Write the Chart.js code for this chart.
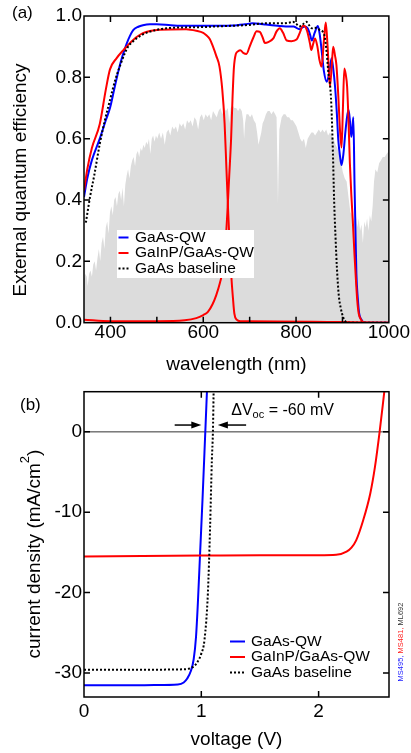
<!DOCTYPE html>
<html><head><meta charset="utf-8">
<script src="https://cdn.jsdelivr.net/npm/chart.js@4/dist/chart.umd.min.js"></script>
<style>
html,body{margin:0;padding:0;background:#fff;}
#wrapA{position:absolute;left:0;top:0;width:411px;height:380px;}
#wrapB{position:absolute;left:0;top:380px;width:411px;height:373px;}
</style></head><body>
<div id="wrapA"><canvas id="cA" width="411" height="380"></canvas></div>
<div id="wrapB"><canvas id="cB" width="411" height="373"></canvas></div>
<script>
const FONT = '"Liberation Sans", Arial, Helvetica, sans-serif';
const seriesNames = ['GaAs-QW', 'GaInP/GaAs-QW', 'GaAs baseline'];

// ---------- Panel (a): EQE vs wavelength ----------
const wlQW = [343,350,360,377,390,399,408,417,426,435,442,449,460,470,485,500,530,560,600,640,663,690,706,720,735,760,778,795,800,807,813,818,825,830,834,840,847,851,855,860,866,871,876.5,880,884,888,891,895,898,902,906,909,913,916,919,921,923.5,926,928,930,933,936,941,948,1000];
const eqeQW = [0.41,0.47,0.53,0.60,0.66,0.70,0.76,0.82,0.87,0.91,0.935,0.954,0.965,0.970,0.973,0.973,0.970,0.968,0.968,0.968,0.969,0.973,0.976,0.975,0.972,0.968,0.966,0.966,0.962,0.957,0.962,0.966,0.96,0.94,0.92,0.945,0.967,0.94,0.889,0.82,0.786,0.81,0.862,0.83,0.77,0.68,0.596,0.54,0.514,0.55,0.617,0.66,0.694,0.66,0.606,0.63,0.670,0.45,0.30,0.16,0.08,0.03,0.01,0.0,0.0];

const wlTandemTop = [343,350,360,377,390,399,413,428,449,470,506,563,585,600,606,614,621,628,635,641,646,650,654,658,661,664,667,672,680,700,1000];
const eqeTandemTop = [0.43,0.50,0.57,0.648,0.76,0.826,0.862,0.889,0.922,0.944,0.955,0.957,0.952,0.945,0.938,0.925,0.90,0.87,0.835,0.76,0.65,0.50,0.35,0.22,0.14,0.08,0.03,0.01,0.005,0.005,0.0];

const wlTandemBot = [343,400,500,560,585,600,610,620,628,636,643,648,652,656,660,663,666,670,675,680,686,693,700,708,715,722,728,733,740,751,758,765,772,780,790,801,808,815,820,825,830,833,837,841,846,850,855,860,864,868,873,877,880,884,887,891,895,898,901,904,907,910,913,916,919,922,926,929,932,935,940,948,1000];
const eqeTandemBot = [0.01,0.005,0.005,0.008,0.015,0.025,0.035,0.06,0.09,0.13,0.18,0.26,0.36,0.48,0.60,0.73,0.83,0.875,0.885,0.888,0.88,0.876,0.90,0.93,0.95,0.948,0.93,0.912,0.915,0.927,0.95,0.96,0.945,0.92,0.918,0.923,0.945,0.968,0.965,0.945,0.91,0.889,0.91,0.927,0.90,0.86,0.835,0.92,0.979,0.90,0.77,0.84,0.90,0.87,0.84,0.74,0.62,0.571,0.70,0.829,0.81,0.77,0.66,0.52,0.42,0.34,0.22,0.14,0.07,0.03,0.01,0.0,0.0];

const wlBase = [347,356,365,377,388,399,410,420,430,438,447,456,470,485,500,521,563,600,628,660,700,735,771,785,793,800,807,814,822,828,834,840,846,851,857,862,866,870,873,876,879.5,882,885,888,892,896,901,906,912,1000];
const eqeBase = [0.326,0.41,0.48,0.583,0.66,0.726,0.79,0.835,0.875,0.90,0.915,0.927,0.94,0.949,0.955,0.96,0.963,0.964,0.966,0.968,0.971,0.976,0.976,0.978,0.981,0.975,0.966,0.972,0.981,0.97,0.96,0.962,0.96,0.955,0.95,0.93,0.88,0.81,0.78,0.71,0.55,0.40,0.28,0.18,0.09,0.05,0.02,0.005,0.0,0.0];

// scaled solar spectrum (grey background), in EQE units
const wlSolar = [
 343,346,349,351,354,357,360,363,366,369,
 372,375,378,381,384,387,390,393,396,399,
 402,405,408,411,414,417,420,423,426,429,
 432,435,438,441,444,447,450,453,456,459,
 462,465,468,471,474,477,480,483,486,489,
 492,495,498,501,505,509,513,517,521,525,
 529,533,537,541,545,549,553,557,561,565,
 569,573,577,581,585,589,593,597,601,605,
 609,613,617,621,625,629,633,637,641,645,
 649,653,656,659,663,667,671,675,679,683,
 686,688,690,693,697,701,705,709,713,716,
 719,722,725,728,731,735,739,743,747,751,
 755,758,760,761,762,764,769,773,777,781,
 785,789,793,797,801,805,809,813,817,821,
 825,829,833,837,841,845,849,853,857,861,
 865,869,873,877,881,885,889,893,897,901,
 905,909,913,917,921,925,929,932,935,938,
 941,944,947,950,953,956,959,962,965,968,
 971,975,979,983,987,991,995,1000];
const solarScaled = [
 .14,.16,.15,.12,.16,.17,.15,.19,.20,.17,
 .21,.24,.20,.26,.28,.24,.31,.33,.29,.36,
 .38,.35,.40,.41,.38,.42,.43,.40,.44,.38,
 .45,.48,.50,.47,.51,.53,.54,.51,.55,.56,
 .54,.57,.56,.58,.57,.59,.58,.60,.55,.60,
 .61,.59,.61,.60,.62,.60,.62,.58,.62,.63,
 .61,.64,.63,.64,.62,.65,.64,.65,.63,.66,
 .65,.66,.64,.67,.66,.63,.67,.68,.66,.68,
 .67,.68,.66,.69,.68,.67,.69,.70,.68,.70,
 .69,.70,.65,.70,.71,.70,.70,.69,.70,.69,
 .66,.60,.65,.68,.68,.67,.68,.66,.65,.62,
 .58,.60,.62,.65,.66,.68,.69,.69,.68,.69,
 .68,.67,.50,.39,.48,.63,.67,.68,.68,.67,
 .67,.66,.66,.65,.64,.62,.60,.59,.60,.57,
 .60,.61,.62,.62,.61,.62,.63,.62,.63,.62,
 .63,.61,.62,.61,.60,.58,.57,.55,.52,.49,
 .47,.46,.41,.36,.35,.33,.35,.31,.34,.30,
 .32,.26,.33,.31,.34,.30,.35,.33,.38,.46,
 .50,.49,.52,.53,.54,.54,.55,.56];

const xTicksA = [400,500,600,700,800,900,1000];
const xLabelsA = [400,600,800,1000];
const yTicksA = [0,0.2,0.4,0.6,0.8,1.0];

// ---------- Panel (b): J-V ----------
const vQW = [0,0.2,0.4,0.6,0.8,0.85,0.88,0.91,0.935,0.955,0.97,0.99,1.01,1.034,1.048];
const jQW = [-31.55,-31.55,-31.55,-31.52,-31.45,-31.2,-30.7,-29.8,-28.3,-25.5,-21.5,-15,-8.5,0,5];
const vTandem = [0,0.5,1.0,1.5,2.0,2.15,2.238,2.28,2.32,2.38,2.44,2.48,2.52,2.56];
const jTandem = [-15.5,-15.45,-15.4,-15.35,-15.35,-15.3,-14.9,-14.4,-13.5,-11.0,-7.7,-4.4,0,5];
const vBase = [0,0.5,0.85,0.9,0.93,0.957,1.0,1.027,1.056,1.075,1.09,1.099,1.105];
const jBase = [-29.6,-29.6,-29.55,-29.45,-29.25,-28.85,-27.6,-25.9,-20.1,-11.8,-3.5,0,5];
const xTicksB = [0,1,2];
const yTicksB = [-30,-20,-10,0];
const deltaVocText = ['\u0394V', 'oc', ' = -60 mV'];

const pts = (xs, ys) => xs.map((x, i) => ({x: x, y: ys[i]}));

// ---------- plugins ----------
const framePlugin = {
  id: 'frame',
  afterDatasetsDraw(chart) {
    const {ctx, chartArea: a, scales} = chart;
    ctx.save();
    ctx.strokeStyle = '#000';
    ctx.lineWidth = 1.5;
    ctx.setLineDash([]);
    ctx.strokeRect(a.left, a.top, a.right - a.left, a.bottom - a.top);
    const L = 6;
    ctx.beginPath();
    scales.x.ticks.forEach(t => {
      const p = scales.x.getPixelForValue(t.value);
      if (p <= a.left + 1 || p >= a.right - 1) return;
      ctx.moveTo(p, a.bottom); ctx.lineTo(p, a.bottom - L);
      ctx.moveTo(p, a.top); ctx.lineTo(p, a.top + L);
    });
    scales.y.ticks.forEach(t => {
      const p = scales.y.getPixelForValue(t.value);
      if (p <= a.top + 1 || p >= a.bottom - 1) return;
      ctx.moveTo(a.left, p); ctx.lineTo(a.left + L, p);
      ctx.moveTo(a.right, p); ctx.lineTo(a.right - L, p);
    });
    ctx.stroke();
    ctx.restore();
  }
};

const legendPlugin = {
  id: 'customLegend',
  afterDatasetsDraw(chart, args, o) {
    const ctx = chart.ctx;
    ctx.save();
    if (o.box) {
      ctx.fillStyle = '#fff';
      ctx.fillRect(o.box[0], o.box[1], o.box[2] - o.box[0], o.box[3] - o.box[1]);
    }
    seriesNames.forEach((name, i) => {
      const ds = chart.data.datasets.find(d => d.label === name);
      const y = o.rowY[i];
      ctx.strokeStyle = ds.borderColor;
      ctx.lineWidth = 2;
      ctx.setLineDash(ds.borderDash || []);
      ctx.beginPath(); ctx.moveTo(o.sampleX0, y); ctx.lineTo(o.sampleX1, y); ctx.stroke();
      ctx.setLineDash([]);
      ctx.fillStyle = '#000';
      ctx.font = '15.5px ' + FONT;
      ctx.textBaseline = 'middle';
      ctx.textAlign = 'left';
      ctx.fillText(name, o.textX, y);
    });
    ctx.restore();
  }
};

// y-axis title drawn as rotated canvas text (parts: [text, size, raise])
const yTitlePlugin = {
  id: 'yTitle',
  afterDraw(chart, args, o) {
    const {ctx, chartArea: a} = chart;
    ctx.save();
    ctx.fillStyle = '#000';
    ctx.textBaseline = 'alphabetic';
    ctx.textAlign = 'left';
    let total = 0;
    o.parts.forEach(p => { ctx.font = p[1] + 'px ' + FONT; total += ctx.measureText(p[0]).width; });
    const cy = (a.top + a.bottom) / 2 + o.shift;
    ctx.translate(o.baseX, cy);
    ctx.rotate(-Math.PI / 2);
    let tx = -total / 2;
    o.parts.forEach(p => {
      ctx.font = p[1] + 'px ' + FONT;
      ctx.fillText(p[0], tx, -p[2]);
      tx += ctx.measureText(p[0]).width;
    });
    ctx.restore();
  }
};

const decorA = {
  id: 'decorA',
  afterDraw(chart) {
    const ctx = chart.ctx;
    ctx.save();
    ctx.fillStyle = '#000';
    ctx.font = '17px ' + FONT;
    ctx.textBaseline = 'alphabetic';
    ctx.fillText('(a)', 12, 18);
    ctx.restore();
  }
};

const decorB = {
  id: 'decorB',
  beforeDatasetsDraw(chart) {
    const {ctx, chartArea: a, scales} = chart;
    const y0 = scales.y.getPixelForValue(0);
    ctx.save();
    ctx.strokeStyle = '#333';
    ctx.lineWidth = 1;
    ctx.beginPath(); ctx.moveTo(a.left, y0); ctx.lineTo(a.right, y0); ctx.stroke();
    ctx.restore();
  },
  afterDraw(chart) {
    const {ctx, scales} = chart;
    const xs = scales.x, ys = scales.y;
    ctx.save();
    ctx.fillStyle = '#000';
    ctx.font = '17px ' + FONT;
    ctx.textBaseline = 'alphabetic';
    ctx.fillText('(b)', 20, 30);
    // delta Voc label
    let x = xs.getPixelForValue(1.255);
    const y = ys.getPixelForValue(2.1);
    ctx.font = '16px ' + FONT;
    ctx.fillText(deltaVocText[0], x, y);
    x += ctx.measureText(deltaVocText[0]).width;
    ctx.font = '11px ' + FONT;
    ctx.fillText(deltaVocText[1], x, y + 3.5);
    x += ctx.measureText(deltaVocText[1]).width;
    ctx.font = '16px ' + FONT;
    ctx.fillText(deltaVocText[2], x, y);
    // arrows
    const ay = ys.getPixelForValue(0.85);
    const arrow = (v0, v1) => {
      const x0 = xs.getPixelForValue(v0), x1 = xs.getPixelForValue(v1);
      const dir = Math.sign(x1 - x0);
      ctx.strokeStyle = '#000'; ctx.lineWidth = 1.5;
      ctx.beginPath(); ctx.moveTo(x0, ay); ctx.lineTo(x1 - dir * 8, ay); ctx.stroke();
      ctx.beginPath();
      ctx.moveTo(x1, ay); ctx.lineTo(x1 - dir * 10, ay - 3.5); ctx.lineTo(x1 - dir * 10, ay + 3.5);
      ctx.closePath(); ctx.fill();
    };
    arrow(0.773, 1.0);
    arrow(1.382, 1.141);
    // sample ids (rotated)
    ctx.translate(401, 262);
    ctx.rotate(-Math.PI / 2);
    ctx.font = '7.5px ' + FONT;
    ctx.textBaseline = 'middle';
    const parts = [['MS495, ', '#1a1aff'], ['MS481, ', '#ff2020'], ['ML692', '#333']];
    let total = 0;
    parts.forEach(p => total += ctx.measureText(p[0]).width);
    let tx = -total / 2;
    parts.forEach(p => { ctx.fillStyle = p[1]; ctx.fillText(p[0], tx, 0); tx += ctx.measureText(p[0]).width; });
    ctx.restore();
  }
};

const tickFont = {family: FONT, size: 19, lineHeight: 1};
const titleFont = {family: FONT, size: 19};
const lineDs = (label, data, color, dash) => ({
  label, data, borderColor: color, borderWidth: 2, borderDash: dash || [],
  pointRadius: 0, fill: false, cubicInterpolationMode: 'monotone', order: 1
});
const noGrid = {display: false, drawTicks: false, tickLength: 0};

// ---------- Chart (a) ----------
new Chart(document.getElementById('cA'), {
  type: 'line',
  data: {
    datasets: [
      {label: 'solar', data: pts(wlSolar, solarScaled), borderWidth: 0, borderColor: 'rgba(0,0,0,0)',
       backgroundColor: '#dcdcdc', fill: 'origin', pointRadius: 0, tension: 0, order: 10},
      lineDs('GaAs baseline', pts(wlBase, eqeBase), '#000', [2, 2]),
      lineDs('GaInP/GaAs-QW', pts(wlTandemTop, eqeTandemTop), '#ff0000'),
      lineDs('GaInP/GaAs-QW ', pts(wlTandemBot, eqeTandemBot), '#ff0000'),
      lineDs('GaAs-QW', pts(wlQW, eqeQW), '#0000ff')
    ]
  },
  options: {
    responsive: false, animation: false, devicePixelRatio: 1,
    layout: {padding: {top: 16, right: 22, bottom: 0, left: 0}},
    plugins: {
      legend: {display: false}, tooltip: {enabled: false},
      customLegend: {box: [117, 230, 254, 278], sampleX0: 118.5, sampleX1: 128.5, textX: 135, rowY: [237.5, 253, 268.5]},
      yTitle: {parts: [['External quantum efficiency', 19, 0]], baseX: 25.5, shift: 10.6}
    },
    scales: {
      x: {
        type: 'linear', min: 343, max: 1000,
        grid: noGrid, border: {display: false},
        afterBuildTicks: s => { s.ticks = xTicksA.map(v => ({value: v})); },
        afterFit: s => { s.height = 57.3; },
        ticks: {font: tickFont, color: '#000', padding: 1, maxRotation: 0, autoSkip: false,
                callback: v => xLabelsA.includes(v) ? String(v) : ''},
        title: {display: true, text: 'wavelength (nm)', font: titleFont, color: '#000', padding: {top: 0, bottom: 3.6}}
      },
      y: {
        type: 'linear', min: 0, max: 1,
        grid: noGrid, border: {display: false},
        afterBuildTicks: s => { s.ticks = yTicksA.map(v => ({value: v})); },
        afterFit: s => { s.width = 84; },
        ticks: {font: tickFont, color: '#000', padding: 2, callback: v => Number(v).toFixed(1)},
        title: {display: false}
      }
    }
  },
  plugins: [framePlugin, legendPlugin, decorA, yTitlePlugin]
});

// ---------- Chart (b) ----------
new Chart(document.getElementById('cB'), {
  type: 'line',
  data: {
    datasets: [
      lineDs('GaAs baseline', pts(vBase, jBase), '#000', [2, 2]),
      lineDs('GaInP/GaAs-QW', pts(vTandem, jTandem), '#ff0000'),
      lineDs('GaAs-QW', pts(vQW, jQW), '#0000ff')
    ]
  },
  options: {
    responsive: false, animation: false, devicePixelRatio: 1,
    layout: {padding: {top: 11.7, right: 22, bottom: 0, left: 0}},
    plugins: {
      legend: {display: false}, tooltip: {enabled: false},
      customLegend: {box: null, sampleX0: 230, sampleX1: 245, textX: 251, rowY: [261.5, 277, 292.5]},
      yTitle: {parts: [['current density (mA/cm', 19, 0], ['2', 13, 11], [')', 19, 0]], baseX: 40, shift: 9.7}
    },
    scales: {
      x: {
        type: 'linear', min: 0, max: 2.6,
        grid: noGrid, border: {display: false},
        afterBuildTicks: s => { s.ticks = xTicksB.map(v => ({value: v})); },
        afterFit: s => { s.height = 56; },
        ticks: {font: tickFont, color: '#000', padding: 5, maxRotation: 0, autoSkip: false, callback: v => String(v)},
        title: {display: true, text: 'voltage (V)', font: titleFont, color: '#000', padding: {top: 0, bottom: 1.6}}
      },
      y: {
        type: 'linear', min: -33, max: 5,
        grid: noGrid, border: {display: false},
        afterBuildTicks: s => { s.ticks = yTicksB.map(v => ({value: v})); },
        afterFit: s => { s.width = 84; },
        ticks: {font: tickFont, color: '#000', padding: 2, callback: v => String(v)},
        title: {display: false}
      }
    }
  },
  plugins: [framePlugin, legendPlugin, decorB, yTitlePlugin]
});
</script>
</body></html>
